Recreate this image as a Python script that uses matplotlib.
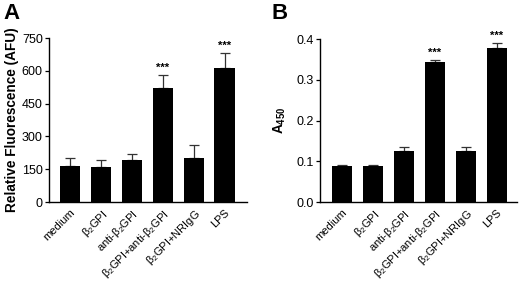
import matplotlib
matplotlib.use("Agg")
import matplotlib.pyplot as plt
import numpy as np

plt.rcParams['font.family'] = ['Liberation Sans', 'DejaVu Sans']
plt.rcParams['mathtext.fontset'] = 'custom'
plt.rcParams['mathtext.rm'] = 'Liberation Sans'
plt.rcParams['mathtext.it'] = 'Liberation Sans:italic'
plt.rcParams['mathtext.bf'] = 'Liberation Sans:bold'

categories = ['medium', 'β$_2$GPI', 'anti-β$_2$GPI', 'β$_2$GPI+anti-β$_2$GPI',
              'β$_2$GPI+NRIgG', 'LPS']
a_values = [166, 158, 190, 520, 203, 613]
a_errors = [36, 32, 31, 62, 56, 70]
a_sig = ['', '', '', '***', '', '***']
b_values = [0.089, 0.089, 0.125, 0.343, 0.125, 0.379]
b_errors = [0.002, 0.002, 0.010, 0.006, 0.010, 0.012]
b_sig = ['', '', '', '***', '', '***']

fig = plt.figure(figsize=(5.2, 2.81), dpi=100)

def panel(rect, vals, errs, sig, ylim, yticks, yticklabels, ylabel, letter, letter_x, xlim, star_off, labelpad):
    ax = fig.add_axes(rect)
    x = np.arange(len(vals))
    ax.bar(x, vals, width=0.65, color='black', zorder=2)
    ax.errorbar(x, vals, yerr=[np.zeros(len(errs)), errs], fmt='none', ecolor='#333333',
                elinewidth=0.9, capsize=3.6, capthick=0.9, zorder=1)
    for xi, v, e, s in zip(x, vals, errs, sig):
        if s:
            ax.text(xi, v + e + star_off, s, ha='center', va='bottom', fontsize=8, fontweight='bold')
    ax.set_xlim(*xlim)
    ax.set_ylim(*ylim)
    ax.set_yticks(yticks)
    ax.set_yticklabels(yticklabels, fontsize=9)
    ax.set_xticks(x)
    ax.set_xticklabels(categories, rotation=45, ha='right', rotation_mode='anchor', fontsize=8)
    ax.tick_params(axis='x', length=0, pad=4)
    ax.tick_params(axis='y', length=3, width=0.9, pad=1.5)
    for sp in ['top', 'right']:
        ax.spines[sp].set_visible(False)
    for sp in ['left', 'bottom']:
        ax.spines[sp].set_linewidth(1.0)
    ax.set_ylabel(ylabel, fontsize=9.8, fontweight='bold', labelpad=labelpad)
    fig.text(letter_x, 0.99, letter, fontsize=16, fontweight='bold', ha='left', va='top')
    return ax

axA = panel([0.0942, 0.281, 0.381, 0.5836], a_values, a_errors, a_sig, (0, 750),
            [0, 150, 300, 450, 600, 750], ['0', '150', '300', '450', '600', '750'],
            'Relative Fluorescence (AFU)', 'A', 0.006, (-0.68, 5.73), 8, 2)
axB = panel([0.6154, 0.281, 0.379, 0.58], b_values, b_errors, b_sig, (0, 0.4),
            [0.0, 0.1, 0.2, 0.3, 0.4], ['0.0', '0.1', '0.2', '0.3', '0.4'],
            r'A$_{\mathbf{450}}$', 'B', 0.523, (-0.71, 5.66), 0.004, 6)

fig.savefig('out.png', dpi=100)
